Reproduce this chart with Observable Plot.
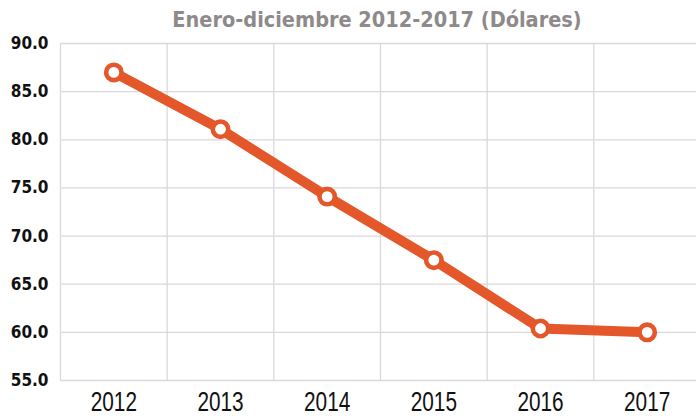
<!DOCTYPE html>
<html>
<head>
<meta charset="utf-8">
<script src="https://cdn.jsdelivr.net/npm/d3@7"></script>
<script src="https://cdn.jsdelivr.net/npm/@observablehq/plot@0.6"></script>
<style>
  html, body { margin: 0; padding: 0; background: #fff; }
  #wrap { width: 696px; height: 418px; overflow: hidden; position: relative; }
  #title { height: 36px; width: 696px; text-align: center; box-sizing: border-box; padding-left: 58px;
    font-family: "DejaVu Sans Condensed", "DejaVu Sans", sans-serif; font-weight: bold; font-size: 21.5px;
    color: #8e8a8b; line-height: 40px; }
  svg { display: block; }
</style>
</head>
<body>
<div id="wrap">
  <div id="title">Enero-diciembre 2012-2017 (Dólares)</div>
  <div id="chart"></div>
</div>
<script>
const years = [2012, 2013, 2014, 2015, 2016, 2017];
const values = [87.0, 81.1, 74.1, 67.5, 60.4, 60.0];
const yTicks = [55, 60, 65, 70, 75, 80, 85, 90];
const gridX = [2011.5, 2012.5, 2013.5, 2014.5, 2015.5, 2016.5, 2017.5];

const data = years.map((y, i) => ({year: y, value: values[i]}));
const orange = "#e4572a";

const chart = Plot.plot({
  width: 696,
  height: 382,
  marginTop: 7,
  marginBottom: 38,
  marginLeft: 60,
  marginRight: 0,
  style: {background: "transparent", overflow: "visible"},
  x: {type: "linear", domain: [2011.5, 2017.5], range: [60, 700], label: null},
  y: {domain: [55, 90], label: null},
  marks: [
    Plot.ruleY(yTicks, {y: d => d, stroke: "#d9d9d9", strokeWidth: 1.3}),
    Plot.ruleX(gridX, {x: d => d, stroke: "#d9d9d9", strokeWidth: 1.3}),
    Plot.axisY(yTicks, {tickSize: 0, tickPadding: 12, tickFormat: d => d.toFixed(1), label: null,
      fontSize: 17, fontWeight: "bold", fill: "#111",
      fontFamily: "DejaVu Sans Condensed, DejaVu Sans, sans-serif"}),
    Plot.axisX(years, {tickSize: 0, tickPadding: 11, tickFormat: d => String(d), label: null,
      fontSize: 27, fill: "#111", fontFamily: "Liberation Sans, sans-serif"}),
    Plot.line(data, {x: "year", y: "value", stroke: orange, strokeWidth: 10, strokeLinejoin: "round"}),
    Plot.dot(data, {x: "year", y: "value", r: 7.7, fill: "white", stroke: orange, strokeWidth: 4.6})
  ]
});
// condense the x tick labels horizontally around their anchor
d3.select(chart).selectAll('g[aria-label="x-axis tick label"] text').each(function() {
  const t = this.getAttribute("transform") || "";
  this.setAttribute("transform", t + " scale(0.77,1)");
});
document.getElementById("chart").appendChild(chart);
</script>
</body>
</html>
